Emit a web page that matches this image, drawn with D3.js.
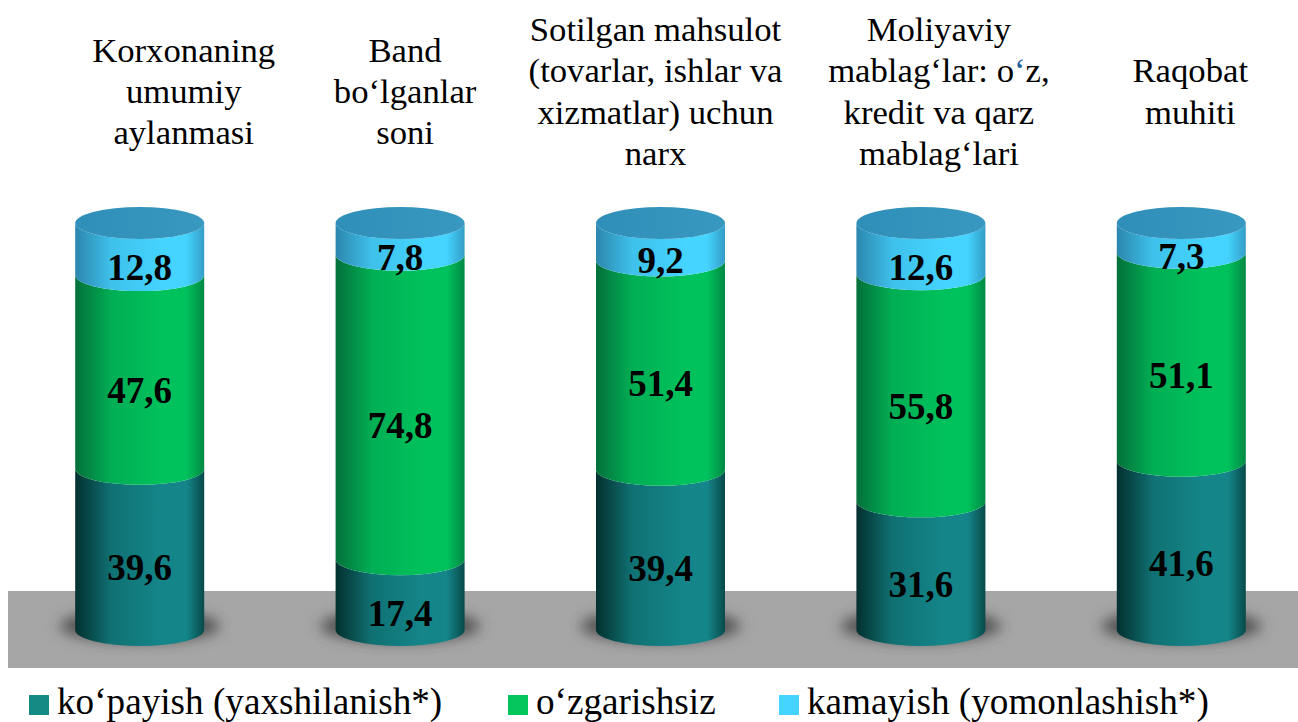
<!DOCTYPE html>
<html>
<head>
<meta charset="utf-8">
<script src="https://d3js.org/d3.v7.min.js"></script>
<style>
  html, body { margin: 0; padding: 0; background: #fff; overflow: hidden; }
  text { font-family: "Liberation Serif", serif; fill: #000; }
</style>
</head>
<body>
<svg id="chart" width="1298" height="722"></svg>
<script>
// values
var categories = ["c1", "c2", "c3", "c4", "c5"];
var categoryLines = [
  ["Korxonaning", "umumiy", "aylanmasi"],
  ["Band", "bo‘lganlar", "soni"],
  ["Sotilgan mahsulot", "(tovarlar, ishlar va", "xizmatlar) uchun", "narx"],
  ["Moliyaviy", "mablag‘lar: o‘z,", "kredit va qarz", "mablag‘lari"],
  ["Raqobat", "muhiti"]
];
var kopayish = [39.6, 17.4, 39.4, 31.6, 41.6];
var ozgarishsiz = [47.6, 74.8, 51.4, 55.8, 51.1];
var kamayish = [12.8, 7.8, 9.2, 12.6, 7.3];
var seriesNames = ["ko‘payish (yaxshilanish*)", "o‘zgarishsiz", "kamayish (yomonlashish*)"];
var seriesKeys = ["up", "same", "down"];

var svg = d3.select("#chart");
var defs = svg.append("defs");

var xScale = d3.scaleBand().domain(categories).range([9.5, 1311.5]);
var yScale = d3.scaleLinear().domain([0, 100]).range([630, 223]);
var barW = 129, rx = barW / 2, ry = 16;
var titleShift = [44, 5, -5, 18, 9]; // titles are not centred over the cylinders

// ---- gradients, one for each series
var shades = {
  up:   {bright: "#14868a", dark: "#03302f", swatch: "#148a84"},
  same: {bright: "#00c25c", dark: "#03703a", swatch: "#04c65c"},
  down: {bright: "#44d4ff", dark: "#2c86ad", swatch: "#44d4ff"}
};
seriesKeys.forEach(function(k) {
  var g = defs.append("linearGradient").attr("id", "grad_" + k);
  g.append("stop").attr("offset", "0%").attr("stop-color", shades[k].dark);
  g.append("stop").attr("offset", "28%").attr("stop-color", d3.interpolateRgb(shades[k].dark, shades[k].bright)(0.75));
  g.append("stop").attr("offset", "68%").attr("stop-color", shades[k].bright);
  g.append("stop").attr("offset", "86%").attr("stop-color", shades[k].bright);
  g.append("stop").attr("offset", "100%").attr("stop-color", d3.interpolateRgb(shades[k].bright, shades[k].dark)(0.7));
});
var capGrad = defs.append("linearGradient").attr("id", "grad_cap");
capGrad.append("stop").attr("offset", "0%").attr("stop-color", "#2f8fb8");
capGrad.append("stop").attr("offset", "100%").attr("stop-color", "#3898c0");

defs.append("filter").attr("id", "blur").attr("x", "-30%").attr("y", "-60%").attr("width", "160%").attr("height", "220%")
  .append("feGaussianBlur").attr("stdDeviation", 7);

// ---- floor
svg.append("rect")
  .attr("x", 8).attr("y", 591).attr("width", 1290).attr("height", 77)
  .attr("fill", "#a6a6a6");

// ---- shadows under the cylinders
svg.selectAll("ellipse.shadow")
  .data(categories)
  .join("ellipse")
  .attr("class", "shadow")
  .attr("cx", d => xScale(d) + xScale.bandwidth() / 2)
  .attr("cy", yScale(0) - 4)
  .attr("rx", 80).attr("ry", 16)
  .attr("fill", "#404040")
  .attr("fill-opacity", 0.85)
  .attr("filter", "url(#blur)");

// ---- stacked data
var rows = categories.map((c, i) => ({cat: c, up: kopayish[i], same: ozgarishsiz[i], down: kamayish[i]}));
var stacked = d3.stack().keys(seriesKeys)(rows);

function segPath(d, cat) {
  var x0 = xScale(cat) + xScale.bandwidth() / 2 - rx, x1 = x0 + barW;
  var yb = yScale(d[0]), yt = yScale(d[1]);
  return `M${x0},${yb} A${rx},${ry} 0 0 0 ${x1},${yb} L${x1},${yt} A${rx},${ry} 0 0 1 ${x0},${yt} Z`;
}

var gSeries = svg.selectAll("g.series")
  .data(stacked)
  .join("g")
  .attr("class", "series");

gSeries.selectAll("path")
  .data(s => s.map(d => ({seg: d, key: s.key})))
  .join("path")
  .attr("d", d => segPath(d.seg, d.seg.data.cat))
  .attr("fill", d => `url(#grad_${d.key})`);

// ---- caps
svg.selectAll("ellipse.cap")
  .data(categories)
  .join("ellipse")
  .attr("class", "cap")
  .attr("cx", d => xScale(d) + xScale.bandwidth() / 2)
  .attr("cy", yScale(100))
  .attr("rx", rx).attr("ry", ry)
  .attr("fill", "url(#grad_cap)");

// ---- value labels
gSeries.selectAll("text")
  .data(s => s.map(d => ({seg: d, key: s.key})))
  .join("text")
  .attr("x", d => xScale(d.seg.data.cat) + xScale.bandwidth() / 2)
  .attr("y", d => (yScale(d.seg[0]) + yScale(d.seg[1])) / 2 + 31)
  .attr("text-anchor", "middle")
  .style("font-weight", "bold")
  .style("font-size", "37px")
  .text(d => d3.format(".1f")(d.seg[1] - d.seg[0]).replace(".", ","));

// ---- category titles
var lineH = 41.3;
svg.selectAll("text.cat")
  .data(categories)
  .join("text")
  .attr("class", "cat")
  .attr("text-anchor", "middle")
  .style("font-size", "34.7px")
  .each(function(c, i) {
    var lines = categoryLines[i];
    var t = d3.select(this);
    var cx = xScale(c) + xScale.bandwidth() / 2 + titleShift[i];
    lines.forEach(function(l, j) {
      var span = t.append("tspan")
        .attr("x", cx)
        .attr("y", 103 + (j - (lines.length - 1) / 2) * lineH);
      // the mark in "o‘z" is blue in the original
      var cut = l.indexOf("o‘z");
      if (cut < 0) {
        span.text(l);
      } else {
        span.append("tspan").text(l.slice(0, cut + 1));
        span.append("tspan").style("fill", "#1f5f9f").text("‘");
        span.append("tspan").text(l.slice(cut + 2));
      }
    });
  });

// ---- legend
var legendX = d3.scaleOrdinal().domain(seriesKeys).range([29, 508, 779]);
var legend = svg.selectAll("g.legend")
  .data(seriesKeys)
  .join("g")
  .attr("class", "legend")
  .attr("transform", d => `translate(${legendX(d)},0)`);
legend.append("rect")
  .attr("y", 695).attr("width", 20).attr("height", 20)
  .attr("fill", d => shades[d].swatch);
legend.append("text")
  .attr("x", 28).attr("y", 713.9)
  .style("font-size", "37.2px")
  .text((d, i) => seriesNames[i]);
</script>
</body>
</html>
